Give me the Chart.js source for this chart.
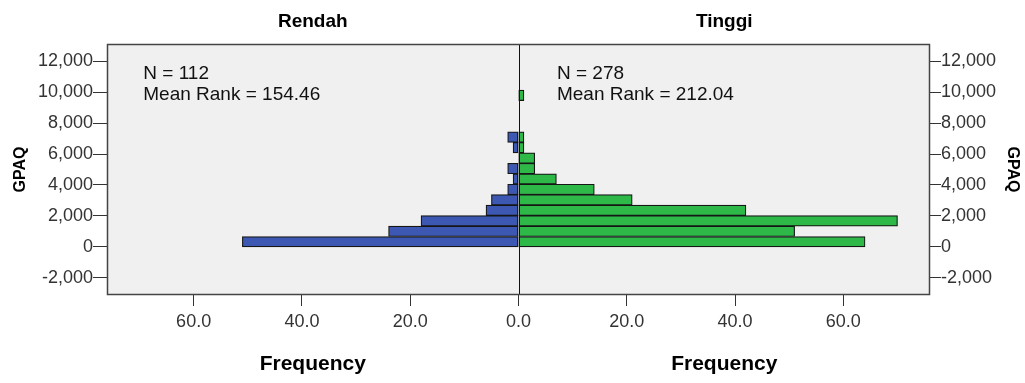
<!DOCTYPE html>
<html>
<head>
<meta charset="utf-8">
<script src="https://cdn.jsdelivr.net/npm/chart.js@4/dist/chart.umd.min.js"></script>
<style>
  html, body { margin: 0; padding: 0; background: #fff; }
  #wrap { width: 1025px; height: 383px; }
</style>
</head>
<body>
<div id="wrap"><canvas id="c" width="1025" height="383"></canvas></div>
<script>
// GPAQ bins (width ~675, starting at 0)
const binWidth = 675;
const rendahCounts = [51, 24, 18, 6, 5, 2, 1, 2, 0, 1, 2, 0, 0, 0, 0];
const tinggiCounts = [64, 51, 70, 42, 21, 14, 7, 3, 3, 1, 1, 0, 0, 0, 1];
const groupNames = ['Rendah', 'Tinggi'];
const groupStats = [['N = 112', 'Mean Rank = 154.46'], ['N = 278', 'Mean Rank = 212.04']];
const yTicks = [-2000, 0, 2000, 4000, 6000, 8000, 10000, 12000];
const xTicksLeft = [0, 20, 40, 60];
const xTicksRight = [20, 40, 60];

const toBars = counts => counts.map((n, i) => ({ x: n > 0 ? n : null, y: (i + 0.5) * binWidth }));

const FAMILY = 'Liberation Sans, Arial, sans-serif';
const tickFont = { family: FAMILY, size: 18 };
const titleFont = { family: FAMILY, size: 21, weight: 'bold' };
const tickColor = '#333';

// plot background, frame, center line and N / mean rank text
const framePlugin = {
  id: 'frame',
  beforeDatasetsDraw(chart) {
    const { ctx, chartArea: a } = chart;
    ctx.save();
    ctx.fillStyle = '#f0f0f0';
    ctx.fillRect(a.left, a.top, a.right - a.left, a.bottom - a.top);
    ctx.restore();
  },
  afterDatasetsDraw(chart) {
    const { ctx, chartArea: a, scales } = chart;
    const cx = Math.round(scales.xR.getPixelForValue(0)) + 0.5;
    ctx.save();
    ctx.strokeStyle = '#111';
    ctx.lineWidth = 1;
    ctx.beginPath();
    ctx.moveTo(cx, a.top);
    ctx.lineTo(cx, a.bottom);
    ctx.stroke();
    ctx.strokeStyle = '#444';
    ctx.lineWidth = 1.5;
    ctx.strokeRect(a.left + 0.5, a.top + 0.5, a.right - a.left - 1, a.bottom - a.top - 1);

    ctx.fillStyle = '#111';
    ctx.font = '19px ' + FAMILY;
    ctx.textBaseline = 'middle';
    ctx.textAlign = 'left';
    const y1 = scales.y.getPixelForValue(11200);
    const y2 = scales.y.getPixelForValue(9850);
    const lx = scales.xL.getPixelForValue(69.3);
    const rx = scales.xR.getPixelForValue(7.1);
    ctx.fillText(groupStats[0][0], lx, y1);
    ctx.fillText(groupStats[0][1], lx, y2);
    ctx.fillText(groupStats[1][0], rx, y1);
    ctx.fillText(groupStats[1][1], rx, y2);
    ctx.restore();
  }
};

const fixH = h => scale => { scale.height = h; };
const fixW = w => scale => { scale.width = w; };

const xAxis = (reverse, ticks) => ({
  type: 'linear',
  position: 'bottom',
  stack: 'bottom',
  stackWeight: 1,
  reverse: reverse,
  min: 0,
  max: 76,
  afterBuildTicks: s => { s.ticks = ticks.map(v => ({ value: v })); },
  afterFit: fixH(88),
  border: { display: false },
  grid: { drawOnChartArea: false, drawTicks: true, tickLength: 11, color: '#333' },
  ticks: {
    font: tickFont, color: tickColor, padding: 5, maxRotation: 0,
    callback: v => Number(v).toFixed(1)
  },
  title: { display: true, text: 'Frequency', font: titleFont, color: '#000', padding: { top: 0, bottom: 6 } }
});

// top boxes are laid out right-to-left, so the right panel's title comes first
const topAxis = name => ({
  type: 'linear',
  position: 'top',
  stack: 'top',
  stackWeight: 1,
  afterFit: fixH(44),
  border: { display: false },
  grid: { display: false },
  ticks: { display: false },
  title: { display: true, text: name, font: { family: FAMILY, size: 19, weight: 'bold' }, color: '#000', padding: { top: 10, bottom: 0 } }
});

const yAxis = (position, width, tickLen, titlePad) => ({
  type: 'linear',
  position: position,
  min: -3100,
  max: 13100,
  offset: false,
  afterBuildTicks: s => { s.ticks = yTicks.map(v => ({ value: v })); },
  afterFit: fixW(width),
  border: { display: false },
  grid: { offset: false, drawOnChartArea: false, drawTicks: true, tickLength: tickLen, color: '#333' },
  ticks: {
    font: tickFont, color: tickColor, padding: 0,
    callback: v => Number(v).toLocaleString('en-US')
  },
  title: { display: true, text: 'GPAQ', font: { family: FAMILY, size: 16, weight: 'bold' }, color: '#000', padding: { top: titlePad, bottom: 0 } }
});

new Chart(document.getElementById('c'), {
  type: 'bar',
  data: {
    datasets: [
      {
        label: groupNames[0],
        data: toBars(rendahCounts),
        xAxisID: 'xL',
        yAxisID: 'y',
        backgroundColor: '#3d58b2',
        borderColor: '#161616',
        borderWidth: 1.2,
        borderSkipped: false,
        grouped: false,
        barPercentage: 1,
        categoryPercentage: 1
      },
      {
        label: groupNames[1],
        data: toBars(tinggiCounts),
        xAxisID: 'xR',
        yAxisID: 'y',
        backgroundColor: '#2db848',
        borderColor: '#161616',
        borderWidth: 1.2,
        borderSkipped: false,
        grouped: false,
        barPercentage: 1,
        categoryPercentage: 1
      }
    ]
  },
  options: {
    indexAxis: 'y',
    responsive: false,
    animation: false,
    layout: { padding: 0 },
    plugins: {
      legend: { display: false },
      tooltip: { enabled: false }
    },
    scales: {
      xL: xAxis(true, xTicksLeft),
      xR: xAxis(false, xTicksRight),
      tR: topAxis(groupNames[1]),
      tL: topAxis(groupNames[0]),
      y: yAxis('left', 107, 14, 11),
      y2: yAxis('right', 95, 11, 3)
    }
  },
  plugins: [framePlugin]
});
</script>
</body>
</html>
